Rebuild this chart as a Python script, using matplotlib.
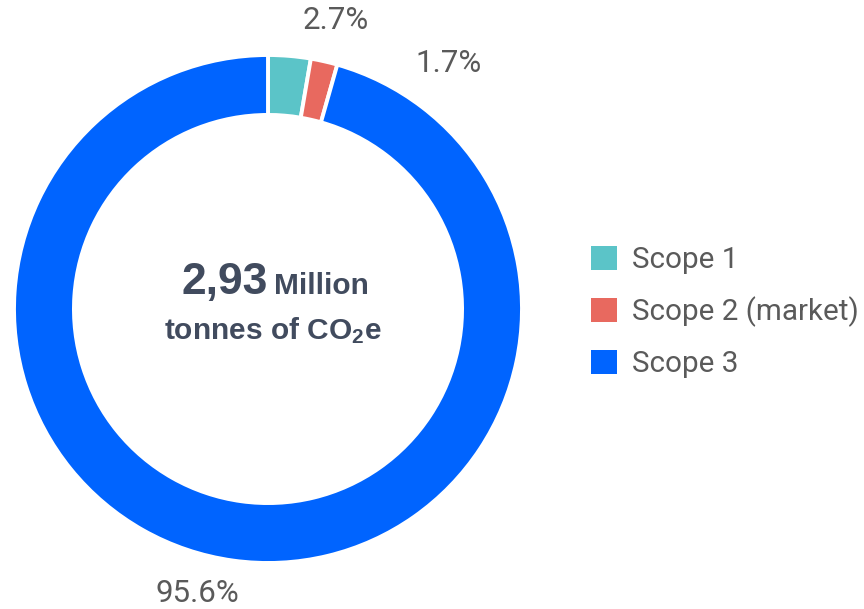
import matplotlib.pyplot as plt
from matplotlib.patches import Patch

plt.rcParams['mathtext.fontset'] = 'custom'
plt.rcParams['mathtext.rm'] = 'Liberation Sans:bold'
plt.rcParams['mathtext.it'] = 'Liberation Sans:bold'
plt.rcParams['mathtext.bf'] = 'Liberation Sans:bold'

# Emission shares (%)
scopes = ['Scope 1', 'Scope 2 (market)', 'Scope 3']
shares = [2.7, 1.7, 95.6]
colors = ['#5BC4C8', '#E8695F', '#0064FF']
pct_labels = ['2.7%', '1.7%', '95.6%']
# label anchor positions, in units of the outer radius
label_pos = [(0.265, 1.135), (0.71, 0.965), (-0.28, -1.12)]

total_value = '2,93'
total_unit = 'Million'
total_line2 = r'tonnes of CO$_{\mathrm{2}}$e'

fig = plt.figure(figsize=(8.64, 6.09), dpi=100)

# pie axes: centre at (268, 309) px, outer radius 254 px
W, H = 864, 609
cx, cy, r = 268, 309, 254
lim = 1.2
size = 2 * lim * r
ax = fig.add_axes([(cx - size / 2) / W, (H - cy - size / 2) / H, size / W, size / H])
ax.pie(shares, colors=colors, startangle=90, counterclock=False, radius=1.0,
       wedgeprops=dict(width=0.236, edgecolor='white', linewidth=2.8))
ax.set_xlim(-lim, lim)
ax.set_ylim(-lim, lim)
ax.set_aspect('equal')
ax.axis('off')

for txt, (x, y) in zip(pct_labels, label_pos):
    ax.text(x, y, txt, ha='center', va='center', fontsize=22.5,
            family='Roboto', color='#5A5A5A')

# centre caption
dark = '#414B5E'
ax.text(0.0, 0.06, total_value, ha='right', va='baseline', fontsize=32,
        fontweight='bold', family='Liberation Sans', color=dark)
ax.text(0.025, 0.06, total_unit, ha='left', va='baseline', fontsize=21.5,
        fontweight='bold', family='Liberation Sans', color=dark)
ax.text(0.02, -0.12, total_line2, ha='center', va='baseline', fontsize=21.5,
        fontweight='bold', family='Liberation Sans', color=dark)

handles = [Patch(facecolor=c, edgecolor='none', label=s) for c, s in zip(colors, scopes)]
leg = fig.legend(handles=handles, loc='center left', bbox_to_anchor=(591 / W, (H - 312) / H),
                 frameon=False, borderpad=0, borderaxespad=0, handlelength=0.87,
                 handleheight=0.87, handletextpad=0.5, labelspacing=0.76,
                 prop=dict(family='Roboto', size=21.3))
for t in leg.get_texts():
    t.set_color('#5A5A5A')

fig.savefig('out.png', dpi=100)
